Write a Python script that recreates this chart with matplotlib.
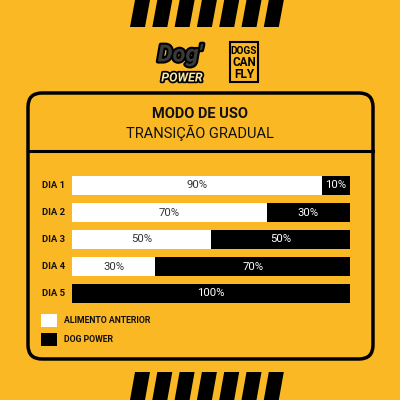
import matplotlib.pyplot as plt
import matplotlib.patheffects as pe
from matplotlib.patches import FancyBboxPatch, Polygon, Rectangle

# dados
dias = ['DIA 1', 'DIA 2', 'DIA 3', 'DIA 4', 'DIA 5']
alimento_anterior = [90, 70, 50, 30, 0]
dog_power = [10, 30, 50, 70, 100]
legenda = ['ALIMENTO ANTERIOR', 'DOG POWER']

AMARELO = '#FBB825'
FONTE = 'Roboto'

fig = plt.figure(figsize=(4, 4), dpi=100, facecolor=AMARELO)

# eixo de fundo em pixels (0..400, y para baixo)
bg = fig.add_axes([0, 0, 1, 1])
bg.set_xlim(0, 400)
bg.set_ylim(400, 0)
bg.axis('off')
bg.set_facecolor(AMARELO)

# listras do topo e da base
def listras(y0, y1):
    for k in range(7):
        x = 130 + k * 22.3
        bg.add_patch(Polygon([(x, y1), (x + 15, y1), (x + 20, y0), (x + 5, y0)],
                             closed=True, color='black', lw=0))

listras(0, 27)
listras(372, 400)

# logo Dog Power
bg.text(180, 55, "Dog'", fontsize=17, fontweight='bold', style='italic', family=FONTE,
        color='#3a3a3a', ha='center', va='center',
        path_effects=[pe.withStroke(linewidth=3, foreground='black')])
bg.text(182, 78, "POWER", fontsize=9, fontweight='bold', style='italic', family=FONTE,
        color='#FCE7A0', ha='center', va='center',
        path_effects=[pe.withStroke(linewidth=2.5, foreground='black')])

# logo Dogs Can Fly
bg.add_patch(Rectangle((230, 42), 28, 40, fill=False, ec='black', lw=1.5))
for i, t in enumerate(['DOGS', 'CAN', 'FLY']):
    bg.text(244, 51 + i * 11.5, t, fontsize=7.2 if i == 0 else 8.5, fontweight='bold',
            family=FONTE, ha='center', va='center', color='black')

# quadro principal
bg.add_patch(FancyBboxPatch((28, 93), 345, 266, boxstyle='round,pad=0,rounding_size=14',
                            fill=False, ec='black', lw=2.5))
bg.plot([28, 373], [151, 151], color='black', lw=2.2)

bg.text(200, 114, 'MODO DE USO', fontsize=10.5, fontweight='bold', family=FONTE,
        ha='center', va='center', color='#111111')
bg.text(200, 133, 'TRANSIÇÃO GRADUAL', fontsize=10.5, family=FONTE,
        ha='center', va='center', color='#111111')

# legenda
for i, (nome, cor) in enumerate(zip(legenda, ['white', 'black'])):
    y = 314 + i * 18.5
    bg.add_patch(Rectangle((41, y), 16, 13, color=cor, lw=0))
    bg.text(64, y + 6.5, nome, fontsize=6.3, fontweight='bold', family=FONTE,
            ha='left', va='center', color='#111111')

# barras
ax = fig.add_axes([72 / 400, 1 - 307 / 400, 278 / 400, 135 / 400])
ax.set_facecolor('none')
pos = range(len(dias))
ax.barh(pos, alimento_anterior, height=0.7, color='white', lw=0)
ax.barh(pos, dog_power, left=alimento_anterior, height=0.7, color='black', lw=0)
ax.set_xlim(0, 100)
ax.set_ylim(4.5, -0.5)
for sp in ax.spines.values():
    sp.set_visible(False)
ax.set_xticks([])
ax.set_yticks([])

for i, (a, d) in enumerate(zip(alimento_anterior, dog_power)):
    if a > 0:
        ax.text(a / 2, i, f'{a}%', ha='center', va='center', fontsize=8.2,
                family=FONTE, color='#333333')
    if d > 0:
        ax.text(a + d / 2, i, f'{d}%', ha='center', va='center', fontsize=8.2,
                family=FONTE, color='white')
    ax.text(-30 / 278 * 100, i, dias[i], ha='left', va='center', fontsize=6.8,
            fontweight='bold', family=FONTE, color='#111111')

fig.savefig('out.png', dpi=100, facecolor=AMARELO)
